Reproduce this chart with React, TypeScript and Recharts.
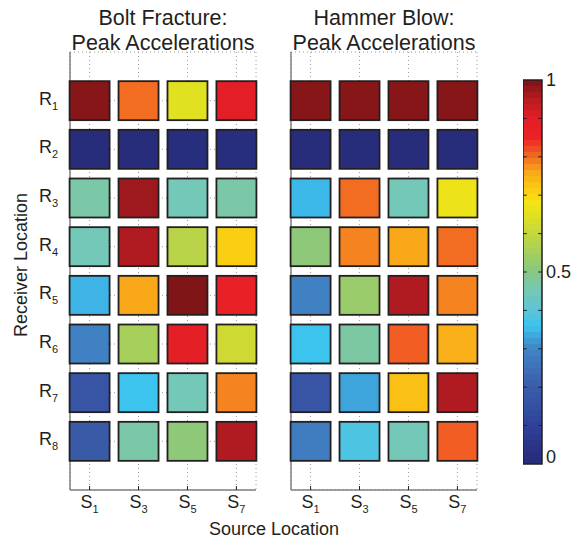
import React from 'react';
import {
  ScatterChart, Scatter, ComposedChart, Line, XAxis, YAxis, CartesianGrid, ReferenceArea, ReferenceLine,
} from 'recharts';

const SOURCES = ['1', '3', '5', '7'];
const RECEIVERS = ['1', '2', '3', '4', '5', '6', '7', '8'];

// normalised peak accelerations, one row per receiver, one column per source
const BOLT_FRACTURE = [
  [0.99, 0.80, 0.645, 0.90],
  [0.01, 0.01, 0.02, 0.02],
  [0.465, 0.97, 0.45, 0.465],
  [0.45, 0.955, 0.58, 0.71],
  [0.345, 0.76, 0.995, 0.86],
  [0.29, 0.55, 0.89, 0.615],
  [0.17, 0.36, 0.45, 0.785],
  [0.19, 0.465, 0.51, 0.955],
];
const HAMMER_BLOW = [
  [0.99, 0.99, 0.99, 0.99],
  [0.01, 0.01, 0.01, 0.01],
  [0.35, 0.80, 0.45, 0.665],
  [0.51, 0.785, 0.76, 0.80],
  [0.29, 0.53, 0.955, 0.785],
  [0.36, 0.47, 0.81, 0.75],
  [0.17, 0.33, 0.73, 0.955],
  [0.28, 0.38, 0.45, 0.81],
];

const CBAR_TICKS = [0, 0.1, 0.2, 0.3, 0.4, 0.5, 0.6, 0.7, 0.8, 0.9, 1];
const CBAR_LABELS = [0, 0.5, 1];

// colour map stops
const CMAP_POS = [0, 0.05, 0.1, 0.15, 0.2, 0.25, 0.3, 0.33, 0.36, 0.4, 0.45, 0.5, 0.55, 0.6, 0.65, 0.68, 0.72, 0.76, 0.8, 0.85, 0.9, 0.94, 1];
const CMAP_HEX = ['#262a78', '#2b3488', '#30409a', '#3550a2', '#3a5ca8', '#3f6fb8', '#3f86c6', '#3ea4dc', '#3cc4ef', '#5ec4d4', '#74c8b8', '#88c882', '#a6cf5c', '#c5d73c', '#e2e21e', '#f5e413', '#fcc813', '#f9a81a', '#f26c22', '#eb2227', '#e31e26', '#c01d23', '#7a1416'];

const FONT = '"Liberation Sans", Arial, sans-serif';
const INK = '#231f20';

const hexToRgb = (h: string) => [1, 3, 5].map((i) => parseInt(h.slice(i, i + 2), 16));
const cmap = (v: number) => {
  const t = Math.max(0, Math.min(1, v));
  let k = 0;
  while (k < CMAP_POS.length - 2 && t > CMAP_POS[k + 1]) k++;
  const a = hexToRgb(CMAP_HEX[k]);
  const b = hexToRgb(CMAP_HEX[k + 1]);
  const f = (t - CMAP_POS[k]) / (CMAP_POS[k + 1] - CMAP_POS[k]);
  return `rgb(${a.map((c, i) => Math.round(c + (b[i] - c) * f)).join(',')})`;
};

const toCells = (rows: number[][]) =>
  rows.flatMap((row, i) => row.map((v, j) => ({ x: j + 1, y: i + 1, v })));

// 64-level colour bar like matlab's
const CBAR_STEPS = Array.from({ length: 64 }, (_, i) => i);

const Tile = (props: any) => {
  const { cx, cy, payload } = props;
  if (cx == null || cy == null) return null;
  return (
    <rect x={cx - 20} y={cy - 19.5} width={40} height={39}
      fill={cmap(payload.v)} stroke={INK} strokeWidth={1.8} />
  );
};

const SourceTick = (props: any) => {
  const { x, y, payload } = props;
  return (
    <g>
      <line x1={x} x2={x} y1={y} y2={y - 4} stroke={INK} strokeWidth={1} />
      <text x={x} y={y + 18} textAnchor="middle" fill={INK} fontSize={18} fontFamily={FONT}>
        S<tspan fontSize={11} dy={5}>{SOURCES[payload.value - 1]}</tspan>
      </text>
    </g>
  );
};

const ReceiverTick = (props: any) => {
  const { x, y, payload } = props;
  return (
    <text x={x - 12} y={y + 4} textAnchor="end" fill={INK} fontSize={18} fontFamily={FONT}>
      R<tspan fontSize={11} dy={5}>{RECEIVERS[payload.value - 1]}</tspan>
    </text>
  );
};

const CbarTick = (props: any) => {
  const { x, y, payload } = props;
  const v = payload.value;
  if (!CBAR_LABELS.includes(v)) return null;
  return (
    <text x={x + 4} y={Math.min(y + 6, 463)} fill={INK} fontSize={18} fontFamily={FONT}>{String(v)}</text>
  );
};

const Panel = ({ rows, left, withLabels }: { rows: number[][]; left: number; withLabels: boolean }) => (
  <div style={{ position: 'absolute', left, top: 0 }}>
    <ScatterChart width={withLabels ? 265 : 206} height={542}
      margin={{ top: 52, right: 9, bottom: 22, left: withLabels ? 0 : 10 }}>
      <CartesianGrid stroke="#9a9a9a" strokeDasharray="1 3" />
      <XAxis type="number" dataKey="x" domain={[0.6, 4.4]} ticks={[1, 2, 3, 4]}
        height={30} tickSize={0} tickMargin={0} tick={<SourceTick />}
        axisLine={{ stroke: '#808080', strokeWidth: 1.5 }} tickLine={false} />
      <YAxis type="number" dataKey="y" domain={[0, 9]} reversed ticks={[1, 2, 3, 4, 5, 6, 7, 8]}
        width={withLabels ? 70 : 1} tickSize={0} tickMargin={0}
        tick={withLabels ? <ReceiverTick /> : false}
        axisLine={{ stroke: '#808080', strokeWidth: 1.5 }} tickLine={false} />
      <Scatter data={toCells(rows)} shape={(p: any) => <Tile {...p} />} isAnimationActive={false} />
    </ScatterChart>
  </div>
);

export default function App() {
  const inner = CBAR_TICKS.filter((v) => v > 0 && v < 1);
  return (
    <div style={{ position: 'absolute', left: 0, top: 0, width: 573, height: 542, background: '#fff' }}>
      <Panel rows={BOLT_FRACTURE} left={0} withLabels />
      <Panel rows={HAMMER_BLOW} left={280} withLabels={false} />
      <div style={{ position: 'absolute', left: 523, top: 0 }}>
        <ComposedChart width={59} height={542} data={[{ x: 0, y: 0 }, { x: 1, y: 1 }]}
          margin={{ top: 80, right: 0, bottom: 78, left: 0 }}>
          <XAxis type="number" dataKey="x" domain={[0, 1]} hide />
          <YAxis type="number" orientation="right" domain={[0, 1]} ticks={CBAR_TICKS}
            width={40} tickSize={0} tickMargin={0} axisLine={false} tickLine={false}
            tick={<CbarTick />} />
          <Line dataKey="y" stroke="none" dot={false} isAnimationActive={false} />
          {CBAR_STEPS.map((i) => (
            <ReferenceArea key={i} x1={0} x2={1} y1={i / 64} y2={(i + 1) / 64}
              fill={cmap((i + 0.5) / 64)} fillOpacity={1} stroke="none" />
          ))}
          {inner.map((v) => (
            <ReferenceLine key={`l${v}`} segment={[{ x: 0, y: v }, { x: 0.2, y: v }]}
              stroke={INK} strokeWidth={1} />
          ))}
          {inner.map((v) => (
            <ReferenceLine key={`r${v}`} segment={[{ x: 0.8, y: v }, { x: 1, y: v }]}
              stroke={INK} strokeWidth={1} />
          ))}
          <ReferenceArea x1={0} x2={1} y1={0} y2={1} fill="none" stroke={INK} strokeWidth={1.5} />
        </ComposedChart>
      </div>
      <svg width={573} height={542} style={{ position: 'absolute', left: 0, top: 0, pointerEvents: 'none' }}>
        <g fontFamily={FONT} fill={INK} textAnchor="middle">
          <text x={163} y={25} fontSize={21.5}>Bolt Fracture:</text>
          <text x={163} y={50} fontSize={21.5}>Peak Accelerations</text>
          <text x={384} y={25} fontSize={21.5}>Hammer Blow:</text>
          <text x={384} y={50} fontSize={21.5}>Peak Accelerations</text>
          <text x={274} y={535} fontSize={18}>Source Location</text>
          <text x={27} y={265} fontSize={18} transform="rotate(-90 27 265)">Receiver Location</text>
        </g>
      </svg>
    </div>
  );
}
